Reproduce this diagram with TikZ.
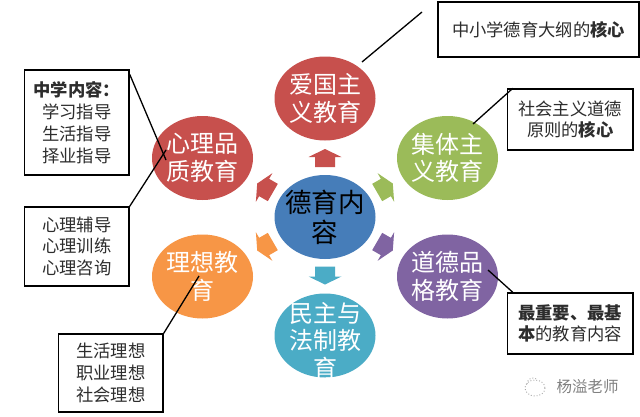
\documentclass[tikz,border=0pt]{standalone}
\usepackage{fontspec}
\setmainfont{Noto Sans CJK SC}
\usetikzlibrary{shapes.geometric}
\definecolor{cred}{RGB}{199,80,77}
\definecolor{cgreen}{RGB}{155,187,89}
\definecolor{cblue}{RGB}{70,125,185}
\definecolor{corange}{RGB}{247,150,70}
\definecolor{cpurple}{RGB}{128,100,162}
\definecolor{cteal}{RGB}{75,172,198}
\definecolor{ctext}{RGB}{45,45,45}
\tikzset{
  x=1pt,y=-1pt,
  topic/.style={ellipse,minimum width=101pt,minimum height=84pt,inner sep=0pt,fill=#1},
  topictext/.style={text=white,font=\fontsize{24}{27.5}\selectfont,align=center,inner sep=0pt},
  hubtext/.style={text=black,font=\fontsize{26.5}{30}\selectfont,align=center,inner sep=0pt},
  notebox/.style={rectangle,draw=black,line width=1.4pt,fill=white,text=ctext,font=\fontsize{17.3}{21.8}\selectfont,align=center,inner sep=0pt},
  tie/.style={draw=black,line width=1.3pt},
  wmark/.style={draw=gray!70,line width=0.9pt,dotted},
}
\newcommand{\barrow}[3]{\fill[#1,shift={(#2)},rotate=#3] (-10,-9) -- (-10,1) -- (-16.5,1) -- (0,9) -- (16.5,1) -- (10,1) -- (10,-9) -- cycle;}
\begin{document}
\begin{tikzpicture}
\useasboundingbox (0,0) rectangle (640,416);
\fill[white] (0,0) rectangle (640,416);
\node[topic=cred,label={[topictext]center:爱国主\\义教育}] (aiguo) at (325,98.5) {};
\node[topic=cred,label={[topictext]center:心理品\\质教育}] (xinli) at (202.5,158) {};
\node[topic=cgreen,label={[topictext]center:集体主\\义教育}] (jiti) at (447.5,158) {};
\node[topic=cblue,label={[hubtext]center:德育内\\容}] (deyu) at (325,217) {};
\node[topic=corange,label={[topictext]center:理想教\\育}] (lixiang) at (202.5,276.5) {};
\node[topic=cpurple,label={[topictext]center:道德品\\格教育}] (daode) at (447.5,276.5) {};
\node[topic=cteal,label={[topictext,yshift=-5pt]center:民主与\\法制教\\育}] (minzhu) at (325,335.5) {};
\node[notebox,minimum width=104.5pt,minimum height=105pt] (b1) at (76.75,122.5) {\textbf{中学内容：}\\学习指导\\生活指导\\择业指导};
\node[notebox,minimum width=104.5pt,minimum height=79pt] (b2) at (76.75,246.5) {心理辅导\\心理训练\\心理咨询};
\node[notebox,minimum width=104.5pt,minimum height=78pt] (b3) at (110.75,373) {生活理想\\职业理想\\社会理想};
\node[notebox,minimum width=201pt,minimum height=55pt] (b4) at (538.5,29.5) {中小学德育大纲的\textbf{核心}};
\node[notebox,minimum width=125.5pt,minimum height=61pt] (b5) at (570.25,119.5) {社会主义道德\\原则的\textbf{核心}};
\node[notebox,minimum width=125.5pt,minimum height=61pt] (b6) at (570.25,323.5) {\textbf{最重要、最基}\\\textbf{本}的教育内容};
\coordinate (t1) at (166,160);
\coordinate (t2) at (166,150);
\coordinate (t3) at (199,276);
\coordinate (t4a) at (362,62);
\coordinate (t4b) at (422,12);
\coordinate (t5) at (473,124);
\coordinate (t6) at (488,270);
\draw[tie] ([yshift=-5pt]b1.north east) -- (t1);
\draw[tie] (b2.north east) -- (t2);
\draw[tie] (b3.north east) -- (t3);
\draw[tie] (t4a) -- (t4b);
\draw[tie] (t5) -- ([xshift=6pt]b5.north west);
\draw[tie] (t6) -- ([xshift=6pt]b6.north west);
\barrow{cred}{325,158}{180}
\barrow{cteal}{325,275.5}{0}
\barrow{cred}{265,188}{240}
\barrow{cgreen}{385,188}{120}
\barrow{corange}{265,246}{-60}
\barrow{cpurple}{385,246}{60}
\node[text=gray,font=\fontsize{15.5}{17}\selectfont,anchor=west,inner sep=0pt] (wm) at (556.5,387) {杨溢老师};
\draw[wmark] (535,388) ellipse (10 and 8);
\draw[wmark] (527,384) arc (180:300:6);
\end{tikzpicture}
\end{document}
